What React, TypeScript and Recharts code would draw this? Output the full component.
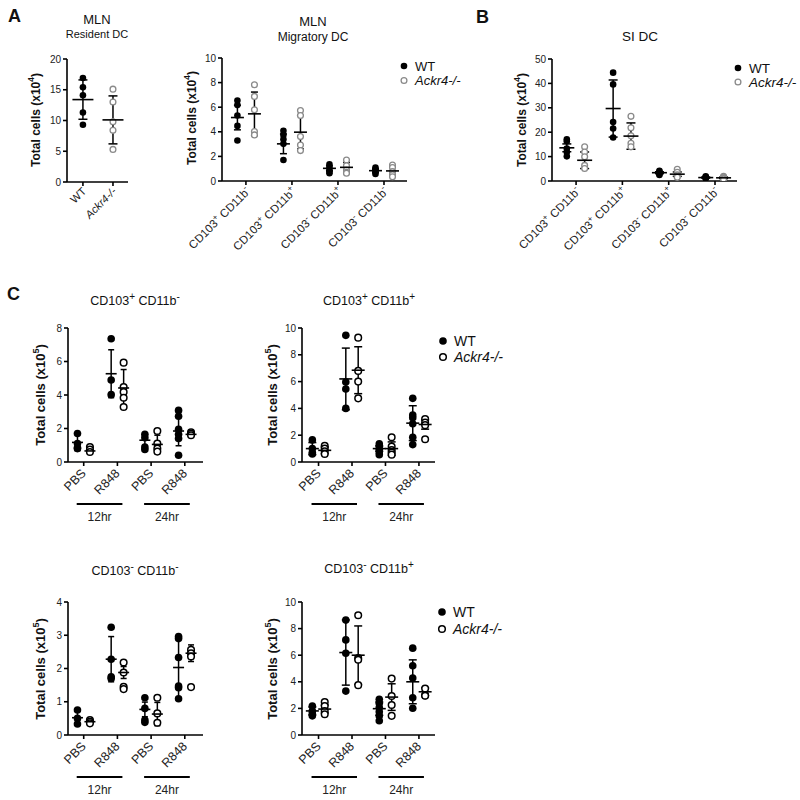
import React from 'react';
import { ScatterChart, Scatter, XAxis, YAxis, ErrorBar } from 'recharts';

const FONT = '"Liberation Sans", Arial, Helvetica, sans-serif';

// ---------------- DATA ----------------
const seriesNames = ['WT', 'Ackr4-/-'];

// Panel A – MLN resident DC
const residentCategories = ['WT', 'Ackr4-/-'];
const residentYTicks = [0, 5, 10, 15, 20];
const residentValues = [
  [16.9, 15.4, 14.1, 11.3, 9.3],
  [15.1, 13.0, 9.8, 8.4, 5.3],
];
const residentMeans = [13.4, 10.1];
const residentErrors = [3.2, 3.9];

// Panel A – MLN migratory DC
const subsetCategories = ['CD103⁺ CD11b⁻', 'CD103⁺ CD11b⁺', 'CD103⁻ CD11b⁺', 'CD103⁻ CD11b⁻'];
const migratoryYTicks = [0, 2, 4, 6, 8, 10];
const migratoryWT = [[6.55, 6.17, 5.33, 4.48, 3.29], [4.08, 3.75, 3.4, 3.02, 1.71], [1.36, 1.09, 0.9, 0.75, 0.63], [1.1, 0.95, 0.85, 0.71, 0.57]];
const migratoryWTMean = [5.16, 3.02, 1.03, 0.84];
const migratoryWTErr = [1.0, 0.8, 0.2, 0.15];
const migratoryKO = [[7.83, 6.88, 5.79, 4.02, 3.75], [5.73, 5.33, 3.61, 2.93, 2.47], [1.71, 1.25, 0.9, 0.7, 0.63], [1.3, 1.09, 0.76, 0.5, 0.35]];
const migratoryKOMean = [5.46, 3.97, 1.11, 0.82];
const migratoryKOErr = [1.77, 1.36, 0.4, 0.35];

// Panel B – SI DC
const siYTicks = [0, 10, 20, 30, 40, 50];
const siWT = [[17.1, 16.3, 13.3, 11.9, 10.1], [44.4, 39.6, 24.2, 21.5, 17.8], [4.2, 3.8, 3.3, 2.9, 2.5], [1.9, 1.6, 1.4, 1.2, 1.0]];
const siWTMean = [13.6, 29.7, 3.4, 1.4];
const siWTErr = [1.6, 11.7, 0.4, 0.25];
const siKO = [[14.0, 11.9, 9.9, 6.4, 5.1], [26.5, 21.8, 18.5, 15.5, 14.0], [4.8, 3.6, 2.5, 1.9, 1.5], [1.9, 1.6, 1.3, 1.0, 0.8]];
const siKOMean = [8.5, 18.4, 2.8, 1.3];
const siKOErr = [3.4, 5.4, 0.9, 0.3];

// Panel C – R848 time course
const treatmentCategories = ['PBS', 'R848', 'PBS', 'R848'];
const timeGroups = ['12hr', '24hr'];

const c1Title = 'CD103⁺ CD11b⁻';
const c1YTicks = [0, 2, 4, 6, 8];
const c1WT = [[1.7, 1.1, 0.85, 0.8], [7.36, 4.9, 4.02], [1.65, 1.45, 0.9, 0.75], [3.08, 2.73, 1.95, 1.65, 1.4, 0.4]];
const c1WTMean = [1.17, 5.27, 1.3, 1.85];
const c1WTErr = [0.5, 1.43, 0.35, 0.88];
const c1KO = [[0.9, 0.75, 0.6], [5.93, 4.48, 4.18, 3.84, 3.28], [1.85, 1.1, 0.8, 0.62], [1.78, 1.68, 1.6]];
const c1KOMean = [0.66, 4.42, 1.05, 1.65];
const c1KOErr = [0.12, 1.1, 0.55, 0.1];

const c2Title = 'CD103⁺ CD11b⁺';
const c2YTicks = [0, 2, 4, 6, 8, 10];
const c2WT = [[1.65, 1.0, 0.7, 0.6], [9.45, 5.97, 5.45, 4.0], [1.35, 1.15, 0.95, 0.75, 0.55], [4.75, 3.5, 3.3, 2.85, 1.85, 1.3]];
const c2WTMean = [1.0, 6.2, 1.0, 2.9];
const c2WTErr = [0.45, 2.3, 0.2, 1.3];
const c2KO = [[1.2, 1.0, 0.8, 0.6], [9.28, 6.8, 6.0, 4.75], [1.85, 1.15, 0.9, 0.7, 0.55], [3.2, 2.95, 2.75, 1.7]];
const c2KOMean = [0.87, 6.85, 1.0, 2.8];
const c2KOErr = [0.25, 1.75, 0.5, 0.35];

const c3Title = 'CD103⁻ CD11b⁻';
const c3YTicks = [0, 1, 2, 3, 4];
const c3WT = [[0.75, 0.5, 0.33], [3.24, 2.28, 1.75, 1.7], [1.12, 0.8, 0.45, 0.38], [2.96, 2.9, 2.33, 1.47, 1.42, 1.09]];
const c3WTMean = [0.52, 2.28, 0.77, 2.03];
const c3WTErr = [0.2, 0.68, 0.22, 0.9];
const c3KO = [[0.45, 0.4, 0.35], [2.18, 1.88, 1.45, 1.38], [1.12, 0.65, 0.37], [2.56, 2.46, 2.36, 1.44]];
const c3KOMean = [0.4, 1.88, 0.63, 2.46];
const c3KOErr = [0.05, 0.18, 0.35, 0.25];

const c4Title = 'CD103⁻ CD11b⁺';
const c4YTicks = [0, 2, 4, 6, 8, 10];
const c4WT = [[2.18, 1.81, 1.6, 1.44], [8.64, 7.15, 6.15, 3.3], [2.68, 2.38, 2.06, 1.74, 1.44, 1.07], [6.53, 5.21, 4.29, 2.8, 2.01]];
const c4WTMean = [1.81, 6.2, 1.98, 4.0];
const c4WTErr = [0.3, 2.45, 0.5, 1.65];
const c4KO = [[2.48, 2.18, 1.81, 1.56], [9.0, 5.78, 5.66, 3.75], [4.24, 2.93, 2.26, 1.44], [3.5, 2.98, 2.95]];
const c4KOMean = [1.95, 6.0, 2.85, 3.25];
const c4KOErr = [0.3, 2.2, 1.0, 0.3];

// ---------------- HELPERS ----------------
const SUP: Record<string, string> = { '⁺': '+', '⁻': '-', '⁴': '4', '⁵': '5' };

function rich(text: string, fs: number, supScale = 0.72) {
  const parts = text.split(/([⁺⁻⁴⁵]+)/).filter((s) => s.length > 0);
  const shift = fs * 0.42;
  let prevSup = false;
  return parts.map((part, i) => {
    const isSup = SUP[part[0]] !== undefined;
    let el;
    if (isSup) {
      el = (
        <tspan key={i} fontSize={fs * supScale} dy={-shift}>
          {part.split('').map((c) => SUP[c]).join('')}
        </tspan>
      );
    } else {
      el = (
        <tspan key={i} dy={prevSup ? shift : 0}>
          {part}
        </tspan>
      );
    }
    prevSup = isSup;
    return el;
  });
}

type Kind = 'filled' | 'hollowGray' | 'hollowBlack';
interface Series {
  values: number[][];
  means: number[];
  errs: number[];
  offset: number;
  kind: Kind;
}
interface PanelProps {
  plot: { L: number; R: number; T: number; B: number };
  xDomain: [number, number];
  yMax: number;
  yTicks: number[];
  labels: string[];
  italic?: boolean[];
  series: Series[];
  meanHalf: number;
  capHalf: number;
  dotR: number;
  tickFont: number;
  tickDx: number;
  tickDy: number;
  groups?: string[];
}

function dotShape(kind: Kind, r: number) {
  return (props: any) => {
    const { cx, cy } = props;
    if (kind === 'filled') return <circle cx={cx} cy={cy} r={r} fill="#000" />;
    if (kind === 'hollowGray')
      return <circle cx={cx} cy={cy} r={r - 0.4} fill="#fff" stroke="#8a8a8a" strokeWidth={1.3} />;
    return <circle cx={cx} cy={cy} r={r - 0.5} fill="#fff" stroke="#000" strokeWidth={1.5} />;
  };
}

function meanShape(half: number) {
  return (props: any) => (
    <line x1={props.cx - half} x2={props.cx + half} y1={props.cy} y2={props.cy} stroke="#000" strokeWidth={1.6} />
  );
}

function Panel(p: PanelProps) {
  const YW = 36, MT = 8, MR = 6, XH = 90;
  const w = p.plot.R - p.plot.L;
  const h = p.plot.B - p.plot.T;
  const unitPx = w / (p.xDomain[1] - p.xDomain[0]);
  const axisStyle = { stroke: '#000', strokeWidth: 1.6 };
  const renderTick = (t: any) => {
    const i = t.payload.value as number;
    const label = p.labels[i] ?? '';
    const ax = t.x + p.tickDx;
    const ay = t.y + p.tickDy;
    return (
      <g key={`tick-${i}`}>
        <text
          x={ax}
          y={ay}
          transform={`rotate(-45 ${ax} ${ay})`}
          textAnchor="end"
          fontSize={p.tickFont}
          fontFamily={FONT}
          fill="#222"
          fontStyle={p.italic && p.italic[i] ? 'italic' : 'normal'}
        >
          {rich(label, p.tickFont)}
        </text>
        {p.groups && i % 2 === 0 ? (
          <g>
            <line x1={t.x - 7} x2={t.x + unitPx + 5} y1={t.y + 36} y2={t.y + 36} stroke="#000" strokeWidth={2.2} />
            <text x={t.x + unitPx / 2 - 1} y={t.y + 53} textAnchor="middle" fontSize={12} fontFamily={FONT} fill="#222">
              {p.groups[i / 2]}
            </text>
          </g>
        ) : null}
      </g>
    );
  };
  return (
    <div style={{ position: 'absolute', left: p.plot.L - YW, top: p.plot.T - MT }}>
      <ScatterChart width={w + YW + MR} height={h + MT + XH} margin={{ top: MT, right: MR, bottom: 0, left: 0 }}>
        <XAxis
          type="number"
          dataKey="x"
          domain={p.xDomain}
          ticks={p.labels.map((_, i) => i)}
          allowDataOverflow
          interval={0}
          height={XH}
          tickSize={4}
          tickMargin={2}
          axisLine={axisStyle}
          tickLine={axisStyle}
          tick={renderTick}
        />
        <YAxis
          type="number"
          dataKey="y"
          domain={[0, p.yMax]}
          ticks={p.yTicks}
          allowDataOverflow
          interval={0}
          width={YW}
          tickSize={4}
          tickMargin={2}
          axisLine={axisStyle}
          tickLine={axisStyle}
          tick={{ fontSize: 10, fill: '#222', fontFamily: FONT }}
        />
        {p.series.map((s, si) => (
          <Scatter
            key={`dots-${si}`}
            name={seriesNames[si]}
            data={s.values.flatMap((vals, ci) => vals.map((v) => ({ x: ci + s.offset, y: v })))}
            isAnimationActive={false}
            shape={dotShape(s.kind, p.dotR)}
          />
        ))}
        {p.series.map((s, si) => (
          <Scatter
            key={`mean-${si}`}
            data={s.means.map((m, ci) => ({ x: ci + s.offset, y: m, err: s.errs[ci] }))}
            isAnimationActive={false}
            shape={meanShape(p.meanHalf)}
          >
            <ErrorBar dataKey="err" direction="y" width={p.capHalf} stroke="#000" strokeWidth={1.5} />
          </Scatter>
        ))}
      </ScatterChart>
    </div>
  );
}

function YLabel({ x, y, exp, fs }: { x: number; y: number; exp: string; fs: number }) {
  return (
    <text x={x} y={y} transform={`rotate(-90 ${x} ${y})`} textAnchor="middle" fontSize={fs} fontWeight="bold" fontFamily={FONT} fill="#111" dominantBaseline="middle">
      {rich(`Total cells (x10${exp})`, fs, 0.7)}
    </text>
  );
}

function LegendBlock({ x, y, gap, fs, r, koKind }: { x: number; y: number; gap: number; fs: number; r: number; koKind: Kind }) {
  return (
    <g>
      <circle cx={x} cy={y} r={r} fill="#000" />
      <text x={x + 11} y={y + fs * 0.36} fontSize={fs} fontFamily={FONT} fill="#111">{seriesNames[0]}</text>
      {koKind === 'hollowGray' ? (
        <circle cx={x} cy={y + gap} r={r - 0.4} fill="#fff" stroke="#8a8a8a" strokeWidth={1.3} />
      ) : (
        <circle cx={x} cy={y + gap} r={r - 0.5} fill="#fff" stroke="#000" strokeWidth={1.5} />
      )}
      <text x={x + 11} y={y + gap + fs * 0.36} fontSize={fs} fontStyle="italic" fontFamily={FONT} fill="#111">{seriesNames[1]}</text>
    </g>
  );
}

const wtOff = -0.185;
const koOff = 0.185;

export default function App() {
  const cDomainLeft: [number, number] = [-0.466, 3.54];
  const cDomainRight: [number, number] = [-0.494, 3.48];
  return (
    <div style={{ position: 'absolute', left: 0, top: 0, width: 800, height: 800, background: '#fff', fontFamily: FONT }}>
      {/* A: resident */}
      <Panel
        plot={{ L: 67, R: 128, T: 59, B: 182 }}
        xDomain={[-0.53, 1.5]}
        yMax={20}
        yTicks={residentYTicks}
        labels={residentCategories}
        italic={[false, true]}
        series={[
          { values: [residentValues[0], []], means: [residentMeans[0]], errs: [residentErrors[0]], offset: 0, kind: 'filled' },
          { values: [[], residentValues[1]], means: [], errs: [], offset: 0, kind: 'hollowGray' },
          { values: [], means: [residentMeans[1]], errs: [residentErrors[1]], offset: 1, kind: 'hollowGray' },
        ]}
        meanHalf={10.5}
        capHalf={4.5}
        dotR={3.3}
        tickFont={11}
        tickDx={4}
        tickDy={4}
      />
      {/* A: migratory */}
      <Panel
        plot={{ L: 222, R: 407, T: 58, B: 181 }}
        xDomain={[-0.52, 3.5]}
        yMax={10}
        yTicks={migratoryYTicks}
        labels={subsetCategories}
        series={[
          { values: migratoryWT, means: migratoryWTMean, errs: migratoryWTErr, offset: wtOff, kind: 'filled' },
          { values: migratoryKO, means: migratoryKOMean, errs: migratoryKOErr, offset: koOff, kind: 'hollowGray' },
        ]}
        meanHalf={6.5}
        capHalf={3.5}
        dotR={3.3}
        tickFont={11.5}
        tickDx={5}
        tickDy={5}
      />
      {/* B: SI */}
      <Panel
        plot={{ L: 552, R: 737, T: 59, B: 181 }}
        xDomain={[-0.52, 3.475]}
        yMax={50}
        yTicks={siYTicks}
        labels={subsetCategories}
        series={[
          { values: siWT, means: siWTMean, errs: siWTErr, offset: -0.2, kind: 'filled' },
          { values: siKO, means: siKOMean, errs: siKOErr, offset: 0.185, kind: 'hollowGray' },
        ]}
        meanHalf={7.5}
        capHalf={4.5}
        dotR={3.3}
        tickFont={11.5}
        tickDx={5}
        tickDy={5}
      />
      {/* C panels */}
      <Panel
        plot={{ L: 68, R: 203, T: 328, B: 462 }}
        xDomain={cDomainLeft}
        yMax={8}
        yTicks={c1YTicks}
        labels={treatmentCategories}
        groups={timeGroups}
        series={[
          { values: c1WT, means: c1WTMean, errs: c1WTErr, offset: wtOff, kind: 'filled' },
          { values: c1KO, means: c1KOMean, errs: c1KOErr, offset: koOff, kind: 'hollowBlack' },
        ]}
        meanHalf={5.5}
        capHalf={3}
        dotR={3.8}
        tickFont={12.5}
        tickDx={3}
        tickDy={6}
      />
      <Panel
        plot={{ L: 302, R: 435, T: 328, B: 462 }}
        xDomain={cDomainRight}
        yMax={10}
        yTicks={c2YTicks}
        labels={treatmentCategories}
        groups={timeGroups}
        series={[
          { values: c2WT, means: c2WTMean, errs: c2WTErr, offset: wtOff, kind: 'filled' },
          { values: c2KO, means: c2KOMean, errs: c2KOErr, offset: koOff, kind: 'hollowBlack' },
        ]}
        meanHalf={6.5}
        capHalf={4}
        dotR={3.8}
        tickFont={12.5}
        tickDx={3}
        tickDy={6}
      />
      <Panel
        plot={{ L: 68, R: 203, T: 602, B: 735 }}
        xDomain={cDomainLeft}
        yMax={4}
        yTicks={c3YTicks}
        labels={treatmentCategories}
        groups={timeGroups}
        series={[
          { values: c3WT, means: c3WTMean, errs: c3WTErr, offset: wtOff, kind: 'filled' },
          { values: c3KO, means: c3KOMean, errs: c3KOErr, offset: koOff, kind: 'hollowBlack' },
        ]}
        meanHalf={5.5}
        capHalf={3}
        dotR={3.8}
        tickFont={12.5}
        tickDx={3}
        tickDy={6}
      />
      <Panel
        plot={{ L: 302, R: 435, T: 602, B: 735 }}
        xDomain={cDomainRight}
        yMax={10}
        yTicks={c4YTicks}
        labels={treatmentCategories}
        groups={timeGroups}
        series={[
          { values: c4WT, means: c4WTMean, errs: c4WTErr, offset: wtOff, kind: 'filled' },
          { values: c4KO, means: c4KOMean, errs: c4KOErr, offset: koOff, kind: 'hollowBlack' },
        ]}
        meanHalf={6.5}
        capHalf={4}
        dotR={3.8}
        tickFont={12.5}
        tickDx={3}
        tickDy={6}
      />
      {/* Annotation overlay */}
      <svg width={800} height={800} style={{ position: 'absolute', left: 0, top: 0, pointerEvents: 'none' }}>
        <g fontFamily={FONT} fill="#111">
          <text x={8} y={22} fontSize={18} fontWeight="bold">A</text>
          <text x={476} y={23} fontSize={18} fontWeight="bold">B</text>
          <text x={7} y={300} fontSize={18} fontWeight="bold">C</text>

          <text x={97} y={24} fontSize={13} textAnchor="middle">MLN</text>
          <text x={97} y={38} fontSize={11} textAnchor="middle">Resident DC</text>
          <text x={313} y={26} fontSize={13} textAnchor="middle">MLN</text>
          <text x={313} y={41} fontSize={12} textAnchor="middle">Migratory DC</text>
          <text x={640} y={41} fontSize={13.5} textAnchor="middle">SI DC</text>

          <text x={135} y={305} fontSize={12.5} textAnchor="middle">{rich(c1Title, 12.5, 0.8)}</text>
          <text x={369} y={305} fontSize={12.5} textAnchor="middle">{rich(c2Title, 12.5, 0.8)}</text>
          <text x={135} y={575} fontSize={12.5} textAnchor="middle">{rich(c3Title, 12.5, 0.8)}</text>
          <text x={369} y={573} fontSize={12.5} textAnchor="middle">{rich(c4Title, 12.5, 0.8)}</text>
        </g>
        <YLabel x={37} y={120} exp="⁴" fs={12} />
        <YLabel x={193} y={118} exp="⁴" fs={12} />
        <YLabel x={523} y={120} exp="⁴" fs={12} />
        <YLabel x={42} y={395} exp="⁵" fs={13} />
        <YLabel x={274} y={395} exp="⁵" fs={13} />
        <YLabel x={42} y={669} exp="⁵" fs={13} />
        <YLabel x={274} y={669} exp="⁵" fs={13} />

        <LegendBlock x={404} y={66} gap={14.5} fs={13} r={3.3} koKind="hollowGray" />
        <LegendBlock x={738} y={68} gap={14} fs={13.5} r={3.3} koKind="hollowGray" />
        <LegendBlock x={443} y={341} gap={16} fs={14} r={3.8} koKind="hollowBlack" />
        <LegendBlock x={442} y={612} gap={17} fs={14} r={3.8} koKind="hollowBlack" />
      </svg>
    </div>
  );
}
